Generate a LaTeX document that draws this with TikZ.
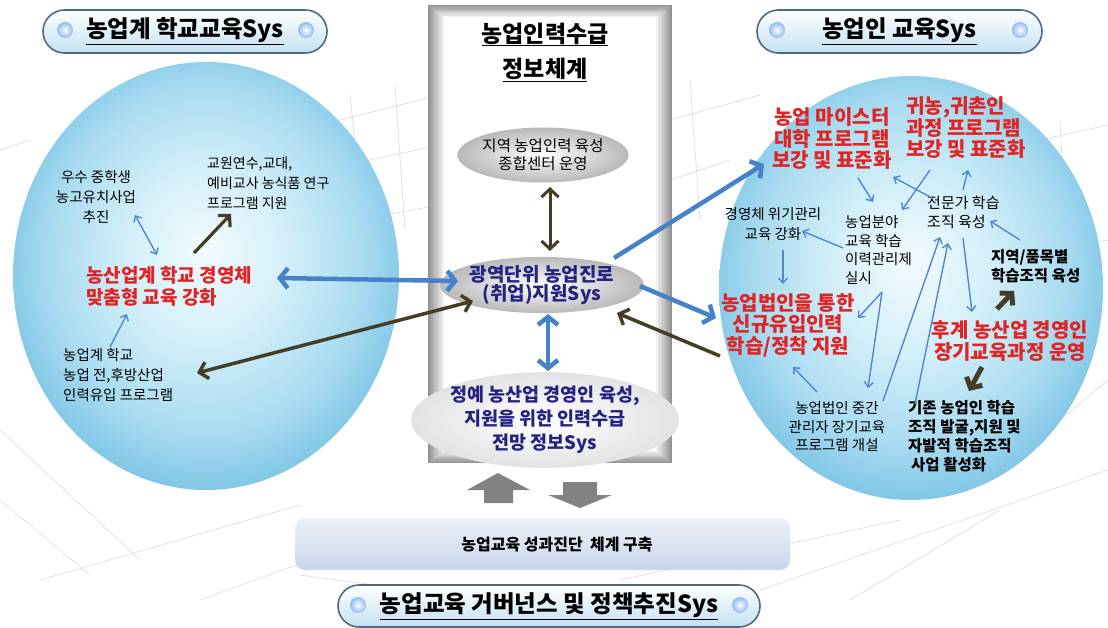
\documentclass[tikz,border=0pt]{standalone}
\usepackage{fontspec}
\setmainfont{Noto Sans CJK KR}
\usetikzlibrary{arrows.meta,shapes.geometric,shapes.misc}
\definecolor{sphIn}{RGB}{242,251,254}
\definecolor{sphA}{RGB}{212,239,249}
\definecolor{sphB}{RGB}{170,220,241}
\definecolor{sphC}{RGB}{125,197,229}
\definecolor{sphE}{RGB}{85,165,210}
\definecolor{sphD}{RGB}{50,135,185}
\definecolor{redc}{RGB}{225,35,35}
\definecolor{navyc}{RGB}{35,35,130}
\definecolor{arrblue}{RGB}{70,130,200}
\definecolor{thinblue}{RGB}{80,135,205}
\definecolor{olive}{RGB}{68,62,38}
\definecolor{pillB}{RGB}{195,225,242}
\definecolor{pillE}{RGB}{80,105,130}
\definecolor{barT}{RGB}{236,241,249}
\definecolor{barB}{RGB}{200,214,236}
\definecolor{blockg}{RGB}{130,130,130}
\definecolor{gridc}{RGB}{222,222,222}
\pgfdeclareradialshading{sphere}{\pgfpoint{0bp}{3bp}}{color(0bp)=(sphIn); color(10bp)=(sphA); color(20bp)=(sphB); color(27bp)=(sphC); color(32bp)=(sphE); color(35.4bp)=(sphD); color(50bp)=(sphD)}
\tikzset{
  BB/.tip={Straight Barb[length=8pt,width=20pt]},
  DB/.tip={Straight Barb[length=8pt,width=17pt]},
  TB/.tip={Straight Barb[length=5pt,width=9pt]},
  KB/.tip={Straight Barb[length=8pt,width=18pt]},
  bigblue/.style={draw=arrblue, line width=4.5pt},
  bigdark/.style={draw=olive, line width=3.5pt},
  thinarr/.style={draw=thinblue, line width=1.4pt},
  fatdark/.style={draw=olive, line width=5pt},
  txt/.style={inner sep=0pt, font=\fontsize{14.5}{20}\selectfont},
  btxt/.style={inner sep=0pt, font=\bfseries\fontsize{15.5}{19}\selectfont},
  redl/.style={inner sep=0pt, text=redc, font=\bfseries\fontsize{19}{22}\selectfont},
  redt/.style={inner sep=0pt, text=redc, font=\bfseries\fontsize{20}{21.5}\selectfont},
  pill/.style={rounded rectangle, draw=pillE, line width=1.6pt, top color=white, bottom color=pillB, inner sep=0pt, font=\bfseries\fontsize{23.5}{26}\selectfont},
  bead/.style={inner color=white, outer color=sphC!80!blue!70!white},
  ellnode/.style={ellipse, inner sep=0pt, inner color=white, outer color=gray!55, align=center},
}
\begin{document}
\begin{tikzpicture}[x=1pt,y=-1pt]
\useasboundingbox (0,0) rectangle (1108,628);
\fill[white] (0,0) rectangle (1108,628);
% background grid
\begin{scope}[draw=gridc, line width=0.7pt]
\draw (300,130) -- (440,95);
\draw (300,175) -- (440,145);
\draw (330,225) -- (440,205);
\draw (350,95) -- (365,240);
\draw (395,85) -- (405,230);
\draw (670,120) -- (760,95);
\draw (670,180) -- (730,160);
\draw (690,80) -- (700,220);
\draw (1040,140) -- (1108,125);
\draw (1040,250) -- (1108,240);
\draw (1060,120) -- (1070,330);
\draw (0,430) -- (140,560);
\draw (0,500) -- (90,575);
\draw (40,580) -- (300,505);
\draw (200,600) -- (420,520);
\draw (300,575) -- (560,610);
\draw (620,580) -- (900,520);
\draw (760,590) -- (1108,470);
\draw (850,600) -- (1000,510);
\draw (1108,380) -- (1000,470);
\draw (0,150) -- (30,140);
\end{scope}
% spheres
\shade[shading=sphere] (206,276) ellipse [x radius=193pt, y radius=214pt];
\shade[shading=sphere] (911,288) ellipse [x radius=192pt, y radius=212pt];
% center box
\foreach \i in {0,...,9}{
  \pgfmathtruncatemacro{\g}{42-4*\i}
  \fill[black!\g] ({428+1.6*\i},{5+1.2*\i}) rectangle ({672-1.6*\i},{463-1.2*\i});
}
\fill[white] (444,17) rectangle (656,451);
% title pills
\node[pill, minimum width=284pt, minimum height=43pt] (tl) at (185,31.5) {\underline{농업계 학교교육Sys}};
\node[pill, minimum width=285pt, minimum height=43pt] (tr) at (899.5,31.5) {\underline{농업인 교육Sys}};
\node[pill, minimum width=422pt, minimum height=42pt] (tb) at (549,606) {\underline{농업교육 거버넌스 및 정책추진Sys}};
\shade[bead] (65,30) circle [radius=8pt];
\shade[bead] (306,30) circle [radius=8pt];
\shade[bead] (777,30) circle [radius=8pt];
\shade[bead] (1020,30) circle [radius=8pt];
\shade[bead] (358,605) circle [radius=8pt];
\shade[bead] (740,605) circle [radius=8pt];
% left sphere texts
\node[txt, align=center] (l1) at (96,197) {우수 중학생\\농고유치사업\\추진};
\node[txt, align=left, anchor=west, font=\fontsize{14}{20}\selectfont] (l2) at (207,183) {교원연수,교대,\\예비교사 농식품 연구\\프로그램 지원};
\node[redl, align=left, anchor=west] (l3) at (86,286) {농산업계 학교 경영체\\맞춤형 교육 강화};
\node[txt, align=left, anchor=west] (l4) at (63,375) {농업계 학교\\농업 전,후방산업\\인력유입 프로그램};
% center texts
\node[inner sep=0pt, font=\bfseries\fontsize{23}{35}\selectfont, align=center] (ct) at (545,52) {\underline{농업인력수급}\\\underline{정보체계}};
\node[ellnode, minimum width=166pt, minimum height=55pt, font=\fontsize{15.5}{18}\selectfont] (c1) at (543,155) {지역 농업인력 육성\\종합센터 운영};
\node[ellnode, minimum width=162pt, minimum height=56pt, text=navyc, font=\bfseries\fontsize{19}{19.5}\selectfont] (c2) at (542,285) {광역단위 농업진로\\(취업)지원Sys};
\node[ellnode, outer color=gray!22, minimum width=200pt, minimum height=82pt, text=navyc, font=\bfseries\fontsize{18.5}{24}\selectfont] (c3) at (545,420) {정예 농산업 경영인 육성,\\지원을 위한 인력수급\\전망 정보Sys};
% right sphere texts
\node[redt, align=center] (r1) at (832,139) {농업 마이스터\\대학 프로그램\\보강 및 표준화};
\node[redt, align=left, anchor=west] (r2) at (906,128) {귀농,귀촌인\\과정 프로그램\\보강 및 표준화};
\node[txt, align=center] (r3) at (773,224) {경영체 위기관리\\교육 강화};
\node[txt, align=left, anchor=west, font=\fontsize{14.5}{18.5}\selectfont] (r4) at (845,250) {농업분야\\교육 학습\\이력관리제\\실시};
\node[txt, align=left, anchor=west, font=\fontsize{15}{19}\selectfont] (r5) at (927,212) {전문가 학습\\조직 육성};
\node[btxt, align=left, anchor=west] (r6) at (991,266) {지역/품목별\\학습조직 육성};
\node[redt, align=center] (r7) at (788,325) {농업법인을 통한\\신규유입인력\\학습/정착 지원};
\node[redt, align=center] (r8) at (1010,341) {후계 농산업 경영인\\장기교육과정 운영};
\node[txt, align=center, font=\fontsize{14.5}{18.5}\selectfont] (r9) at (837,427) {농업법인 중간\\관리자 장기교육\\프로그램 개설};
\node[btxt, align=left, anchor=west] (r10) at (908,436) {기존 농업인 학습\\조직 발굴,지원 및\\자발적 학습조직\\\hspace{3pt}사업 활성화};
% bottom bar and block arrows
\node[rounded corners=10pt, minimum width=495pt, minimum height=52pt, top color=barT, bottom color=barB, inner sep=0pt] (bar) at (542.5,544) {};
\node[inner sep=0pt, font=\bfseries\fontsize{16}{18}\selectfont] (bart) at (557,545) {농업교육 성과진단 \ 체계 구축};
\fill[blockg] (498,473) -- (530,490) -- (513,490) -- (513,503) -- (484,503) -- (484,490) -- (467,490) -- cycle;
\fill[blockg] (563,482) -- (597,482) -- (597,495) -- (612,495) -- (580,508) -- (548,495) -- (563,495) -- cycle;
% coordinates for connector ends
\coordinate (a1s) at (135,215); \coordinate (a1e) at (157,255);
\coordinate (a2s) at (194,253); \coordinate (a2e) at (231,214);
\coordinate (a3s) at (110,347); \coordinate (a3e) at (127,314);
\coordinate (b1s) at (277,278); \coordinate (b1e) at (458,281);
\coordinate (b2s) at (197,373); \coordinate (b2e) at (473,301);
\coordinate (c12s) at (550,187); \coordinate (c12e) at (550,251);
\coordinate (c23s) at (548,314); \coordinate (c23e) at (548,371);
\coordinate (b3s) at (614,258); \coordinate (b3e) at (764,164);
\coordinate (b4s) at (640,286); \coordinate (b4e) at (716,318);
\coordinate (b5s) at (720,356); \coordinate (b5e) at (617,313);
\coordinate (q1s) at (858,178); \coordinate (q1e) at (873,202);
\coordinate (q2s) at (930,170); \coordinate (q2e) at (902,210);
\coordinate (q3s) at (932,198); \coordinate (q3e) at (893,177);
\coordinate (q4s) at (963,190); \coordinate (q4e) at (968,170);
\coordinate (q5s) at (1020,240); \coordinate (q5e) at (990,221);
\coordinate (q6s) at (843,248); \coordinate (q6e) at (802,231);
\coordinate (q7s) at (783,250); \coordinate (q7e) at (783,284);
\coordinate (q8s) at (882,292); \coordinate (q8e) at (858,318); \coordinate (q8f) at (868,388);
\coordinate (q9s) at (817,392); \coordinate (q9e) at (793,367);
\coordinate (q10s) at (883,401); \coordinate (q10e) at (940,237);
\coordinate (q11s) at (915,404); \coordinate (q11e) at (948,243);
\coordinate (q12s) at (963,238); \coordinate (q12e) at (972,312);
\coordinate (k1s) at (997,309); \coordinate (k1e) at (1014,291);
\coordinate (k2s) at (982,367); \coordinate (k2e) at (969,391);
% left connectors
\draw[thinarr, arrows={TB-TB}] (a1s) -- (a1e);
\draw[bigdark, line width=3.2pt, arrows={-DB}] (a2s) -- (a2e);
\draw[thinarr, arrows={-TB}] (a3s) -- (a3e);
\draw[bigblue, arrows={BB-BB}] (b1s) -- (b1e);
\draw[bigdark, arrows={DB-DB}] (b2s) -- (b2e);
% center connectors
\draw[bigdark, line width=3pt, arrows={DB-DB}] (c12s) -- (c12e);
\draw[bigblue, arrows={BB-BB}] (c23s) -- (c23e);
% right connectors
\draw[bigblue, arrows={-BB}] (b3s) -- (b3e);
\draw[bigblue, arrows={-BB}] (b4s) -- (b4e);
\draw[bigdark, arrows={-DB}] (b5s) -- (b5e);
\draw[thinarr, arrows={-TB}] (q1s) -- (q1e);
\draw[thinarr, arrows={-TB}] (q2s) -- (q2e);
\draw[thinarr, arrows={-TB}] (q3s) -- (q3e);
\draw[thinarr, arrows={-TB}] (q4s) -- (q4e);
\draw[thinarr, arrows={-TB}] (q5s) -- (q5e);
\draw[thinarr, arrows={-TB}] (q6s) -- (q6e);
\draw[thinarr, arrows={-TB}] (q7s) -- (q7e);
\draw[thinarr, arrows={-TB}] (q8s) -- (q8e);
\draw[thinarr, arrows={-TB}] (q8s) -- (q8f);
\draw[thinarr, arrows={-TB}] (q9s) -- (q9e);
\draw[thinarr, arrows={-TB}] (q10s) -- (q10e);
\draw[thinarr, arrows={-TB}] (q11s) -- (q11e);
\draw[thinarr, arrows={-TB}] (q12s) -- (q12e);
\draw[fatdark, arrows={-KB}] (k1s) -- (k1e);
\draw[fatdark, arrows={-KB}] (k2s) -- (k2e);
\end{tikzpicture}
\end{document}
